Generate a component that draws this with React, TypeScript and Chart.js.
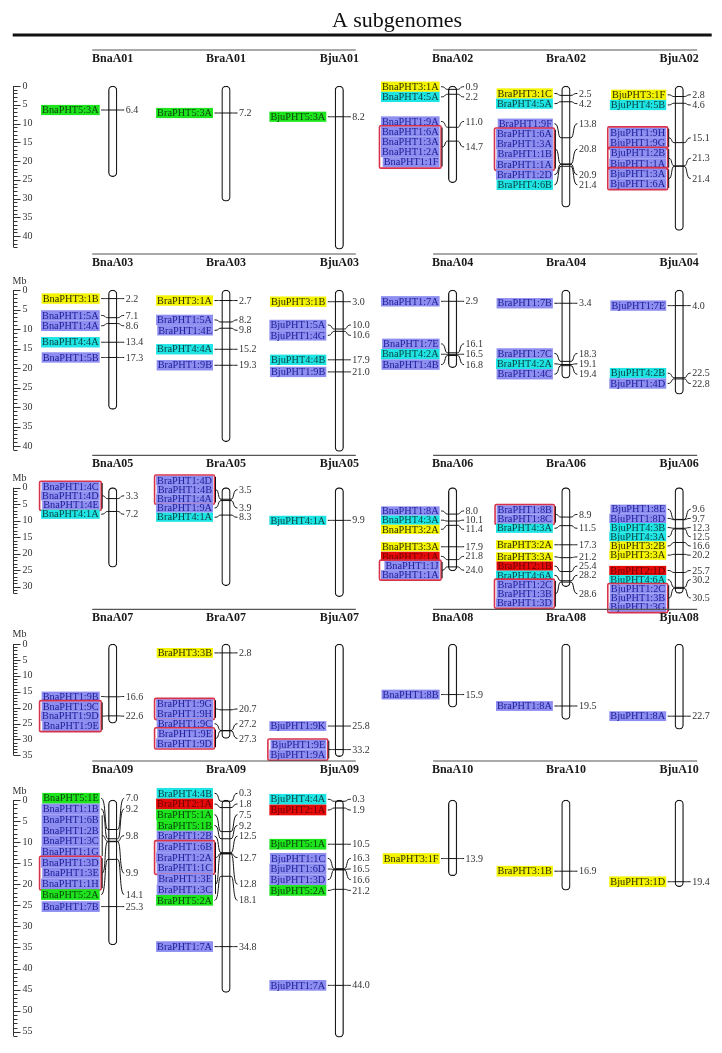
import { useEffect, useRef } from "react";
import { Chart, registerables } from "chart.js";

Chart.register(...registerables);

type Locus = [number, string[], boolean?];

const TITLE = "A subgenomes";
const AXIS_UNIT = "Mb";

// ---------- Row 1 ----------
const ROW1_CHROMS = ["BnaA01", "BraA01", "BjuA01", "BnaA02", "BraA02", "BjuA02"];
const ROW1_LENGTHS = [24.2, 30.7, 43.5, 25.8, 32.3, 38.5];
const ROW1_LOCI: Locus[][] = [
  [[6.4, ["BnaPHT5:3A"]]],
  [[7.2, ["BraPHT5:3A"]]],
  [[8.2, ["BjuPHT5:3A"]]],
  [
    [0.9, ["BnaPHT3:1A"]],
    [2.2, ["BnaPHT4:5A"]],
    [11.0, ["BnaPHT1:9A"]],
    [14.7, ["BnaPHT1:6A", "BnaPHT1:3A", "BnaPHT1:2A", "BnaPHT1:1F"], true],
  ],
  [
    [2.5, ["BraPHT3:1C"]],
    [4.2, ["BraPHT4:5A"]],
    [13.8, ["BraPHT1:9F"]],
    [20.8, ["BraPHT1:6A", "BraPHT1:3A", "BraPHT1:1B", "BraPHT1:1A"], true],
    [20.9, ["BraPHT1:2D"]],
    [21.4, ["BraPHT4:6B"]],
  ],
  [
    [2.8, ["BjuPHT3:1F"]],
    [4.6, ["BjuPHT4:5B"]],
    [15.1, ["BjuPHT1:9H", "BjuPHT1:9G"], true],
    [21.3, ["BjuPHT1:2B", "BjuPHT1:1A"], true],
    [21.4, ["BjuPHT1:3A", "BjuPHT1:6A"], true],
  ],
];

// ---------- Row 2 ----------
const ROW2_CHROMS = ["BnaA03", "BraA03", "BjuA03", "BnaA04", "BraA04", "BjuA04"];
const ROW2_LENGTHS = [30.6, 38.9, 41.4, 19.9, 22.6, 26.7];
const ROW2_LOCI: Locus[][] = [
  [
    [2.2, ["BnaPHT3:1B"]],
    [7.1, ["BnaPHT1:5A"]],
    [8.6, ["BnaPHT1:4A"]],
    [13.4, ["BnaPHT4:4A"]],
    [17.3, ["BnaPHT1:5B"]],
  ],
  [
    [2.7, ["BraPHT3:1A"]],
    [8.2, ["BraPHT1:5A"]],
    [9.8, ["BraPHT1:4E"]],
    [15.2, ["BraPHT4:4A"]],
    [19.3, ["BraPHT1:9B"]],
  ],
  [
    [3.0, ["BjuPHT3:1B"]],
    [10.0, ["BjuPHT1:5A"]],
    [10.6, ["BjuPHT1:4G"]],
    [17.9, ["BjuPHT4:4B"]],
    [21.0, ["BjuPHT1:9B"]],
  ],
  [
    [2.9, ["BnaPHT1:7A"]],
    [16.1, ["BnaPHT1:7E"]],
    [16.5, ["BnaPHT4:2A"]],
    [16.8, ["BnaPHT1:4B"]],
  ],
  [
    [3.4, ["BraPHT1:7B"]],
    [18.3, ["BraPHT1:7C"]],
    [19.1, ["BraPHT4:2A"]],
    [19.4, ["BraPHT1:4C"]],
  ],
  [
    [4.0, ["BjuPHT1:7E"]],
    [22.5, ["BjuPHT4:2B"]],
    [22.8, ["BjuPHT1:4D"]],
  ],
];

// ---------- Row 3 ----------
const ROW3_CHROMS = ["BnaA05", "BraA05", "BjuA05", "BnaA06", "BraA06", "BjuA06"];
const ROW3_LENGTHS = [24.1, 29.7, 33.0, 25.2, 30.0, 32.0];
const ROW3_LOCI: Locus[][] = [
  [
    [3.3, ["BnaPHT1:4C", "BnaPHT1:4D", "BnaPHT1:4E"], true],
    [7.2, ["BnaPHT4:1A"]],
  ],
  [
    [3.5, ["BraPHT1:4D", "BraPHT1:4B", "BraPHT1:4A"], true],
    [3.9, ["BraPHT1:9A"]],
    [8.3, ["BraPHT4:1A"]],
  ],
  [[9.9, ["BjuPHT4:1A"]]],
  [
    [8.0, ["BnaPHT1:8A"]],
    [10.1, ["BnaPHT4:3A"]],
    [11.4, ["BnaPHT3:2A"]],
    [17.9, ["BnaPHT3:3A"]],
    [21.8, ["BnaPHT2:1A"]],
    [24.0, ["BnaPHT1:1J", "BnaPHT1:1A"], true],
  ],
  [
    [8.9, ["BraPHT1:8B", "BraPHT1:8C"], true],
    [11.5, ["BraPHT4:3A"]],
    [17.3, ["BraPHT3:2A"]],
    [21.2, ["BraPHT3:3A"]],
    [25.4, ["BraPHT2:1B"]],
    [28.2, ["BraPHT4:6A"]],
    [28.6, ["BraPHT1:2C", "BraPHT1:3B", "BraPHT1:3D"], true],
  ],
  [
    [9.6, ["BjuPHT1:8E"]],
    [9.7, ["BjuPHT1:8D"]],
    [12.3, ["BjuPHT4:3B"]],
    [12.5, ["BjuPHT4:3A"]],
    [16.6, ["BjuPHT3:2B"]],
    [20.2, ["BjuPHT3:3A"]],
    [25.7, ["BjuPHT2:1D"]],
    [30.2, ["BjuPHT4:6A"]],
    [30.5, ["BjuPHT1:2C", "BjuPHT1:3B", "BjuPHT1:3G"], true],
  ],
];

// ---------- Row 4 ----------
const ROW4_CHROMS = ["BnaA07", "BraA07", "BjuA07", "BnaA08", "BraA08", "BjuA08"];
const ROW4_LENGTHS = [24.9, 29.7, 35.4, 19.9, 23.7, 26.8];
const ROW4_LOCI: Locus[][] = [
  [
    [16.6, ["BnaPHT1:9B"]],
    [22.6, ["BnaPHT1:9C", "BnaPHT1:9D", "BnaPHT1:9E"], true],
  ],
  [
    [2.8, ["BraPHT3:3B"]],
    [20.7, ["BraPHT1:9G", "BraPHT1:9H"], true],
    [27.2, ["BraPHT1:9C"]],
    [27.3, ["BraPHT1:9E", "BraPHT1:9D"], true],
  ],
  [
    [25.8, ["BjuPHT1:9K"]],
    [33.2, ["BjuPHT1:9E", "BjuPHT1:9A"], true],
  ],
  [[15.9, ["BnaPHT1:8B"]]],
  [[19.5, ["BraPHT1:8A"]]],
  [[22.7, ["BjuPHT1:8A"]]],
];

// ---------- Row 5 ----------
const ROW5_CHROMS = ["BnaA09", "BraA09", "BjuA09", "BnaA10", "BraA10", "BjuA10"];
const ROW5_LENGTHS = [34.4, 45.7, 56.3, 18.0, 21.4, 20.6];
const ROW5_LOCI: Locus[][] = [
  [
    [7.0, ["BnaPHT5:1E"]],
    [9.2, ["BnaPHT1:1B"]],
    [9.8, ["BnaPHT1:6B", "BnaPHT1:2B", "BnaPHT1:3C", "BnaPHT1:1G"]],
    [9.9, ["BnaPHT1:3D", "BnaPHT1:3E", "BnaPHT1:1H"], true],
    [14.1, ["BnaPHT5:2A"]],
    [25.3, ["BnaPHT1:7B"]],
  ],
  [
    [0.3, ["BraPHT4:4B"]],
    [1.8, ["BraPHT2:1A"]],
    [7.5, ["BraPHT5:1A"]],
    [9.2, ["BraPHT5:1B"]],
    [12.5, ["BraPHT1:2B"]],
    [12.7, ["BraPHT1:6B", "BraPHT1:2A", "BraPHT1:1C"], true],
    [12.8, ["BraPHT1:3E", "BraPHT1:3C"]],
    [18.1, ["BraPHT5:2A"]],
    [34.8, ["BraPHT1:7A"]],
  ],
  [
    [0.3, ["BjuPHT4:4A"]],
    [1.9, ["BjuPHT2:1A"]],
    [10.5, ["BjuPHT5:1A"]],
    [16.3, ["BjuPHT1:1C"]],
    [16.5, ["BjuPHT1:6D"]],
    [16.6, ["BjuPHT1:3D"]],
    [21.2, ["BjuPHT5:2A"]],
    [44.0, ["BjuPHT1:7A"]],
  ],
  [[13.9, ["BnaPHT3:1F"]]],
  [[16.9, ["BraPHT3:1B"]]],
  [[19.4, ["BjuPHT3:1D"]]],
];

const ROW_CHROMS = [ROW1_CHROMS, ROW2_CHROMS, ROW3_CHROMS, ROW4_CHROMS, ROW5_CHROMS];
const ROW_LENGTHS = [ROW1_LENGTHS, ROW2_LENGTHS, ROW3_LENGTHS, ROW4_LENGTHS, ROW5_LENGTHS];
const ROW_LOCI = [ROW1_LOCI, ROW2_LOCI, ROW3_LOCI, ROW4_LOCI, ROW5_LOCI];
const ROW_AXIS_MAX = [43, 41, 32, 35, 56];
const MAJOR_STEP = 5;

// ---------- layout / style (not data) ----------
const W = 722;
const H = 1053;
const ROW_ZERO_PX = [86, 290, 487.7, 644, 800];
const ROW_PX_PER_MB = [3.75, 3.9, 3.3, 3.18, 4.213];
const ROW_LABEL_H = [10.2, 10.4, 9.2, 9.8, 10.7];
const ROW_HEADER_LINE_Y = [50, 254, 455.3, 609.3, 761];
const ROW_HEADER_NAME_Y = [58.5, 263, 463.5, 617.5, 770];
const ROW_MB_Y: (number | null)[] = [null, 281, 478, 634, 791];
const FIRST_CHROM_PX = 112.7;
const CHROM_STEP_PX = 113.3;
const SERIF = '"Liberation Serif", "Times New Roman", serif';

const FAMILY_FILL: Record<string, string> = {
  PHT1: "#8e8ef0",
  PHT2: "#e50a0a",
  PHT3: "#f4f400",
  PHT4: "#1ee4e4",
  PHT5: "#1ee41e",
};
const FAMILY_TEXT: Record<string, string> = {
  PHT1: "#20209a",
  PHT2: "#6e0000",
  PHT3: "#2e2e00",
  PHT4: "#0b4444",
  PHT5: "#0b440b",
};

function family(name: string): string {
  const m = name.match(/PHT(\d)/);
  return m ? "PHT" + m[1] : "PHT1";
}

function layoutBlocks(targets: number[], heights: number[]): number[] {
  type Cl = { idx: number[]; top: number; h: number };
  const cls: Cl[] = [];
  targets.forEach((t, i) => {
    cls.push({ idx: [i], top: t - heights[i] / 2, h: heights[i] });
    while (cls.length > 1) {
      const b = cls[cls.length - 1];
      const a = cls[cls.length - 2];
      if (a.top + a.h > b.top + 0.01) {
        const idx = a.idx.concat(b.idx);
        let off = 0;
        let sum = 0;
        for (const k of idx) {
          sum += targets[k] - heights[k] / 2 - off;
          off += heights[k];
        }
        cls.splice(cls.length - 2, 2, { idx, top: sum / idx.length, h: off });
      } else break;
    }
  });
  const tops: number[] = new Array(targets.length).fill(0);
  for (const c of cls) {
    let off = 0;
    for (const k of c.idx) {
      tops[k] = c.top + off;
      off += heights[k];
    }
  }
  return tops;
}

const annotatePlugin = {
  id: "annotate",
  afterDatasetsDraw(chart: any) {
    const ctx: CanvasRenderingContext2D = chart.ctx;
    const xs = chart.scales.x;
    ctx.save();

    // Title and rule
    ctx.fillStyle = "#111";
    ctx.font = `22px ${SERIF}`;
    ctx.textAlign = "center";
    ctx.textBaseline = "alphabetic";
    ctx.fillText(TITLE, 397, 27);
    ctx.fillRect(12.7, 33.5, 699, 3);

    for (let r = 0; r < 5; r++) {
      const ys = chart.scales["y" + (r + 1)];
      const lh = ROW_LABEL_H[r];

      // Axis
      const ax = 13.5;
      ctx.strokeStyle = "#333";
      ctx.lineWidth = 1;
      ctx.beginPath();
      ctx.moveTo(ax, ys.getPixelForValue(0));
      ctx.lineTo(ax, ys.getPixelForValue(ROW_AXIS_MAX[r]));
      for (let v = 0; v <= ROW_AXIS_MAX[r]; v++) {
        const y = Math.round(ys.getPixelForValue(v)) + 0.5;
        ctx.moveTo(ax, y);
        ctx.lineTo(v % MAJOR_STEP === 0 ? 20.5 : 17.5, y);
      }
      ctx.stroke();
      ctx.fillStyle = "#333";
      ctx.font = `10px ${SERIF}`;
      ctx.textAlign = "left";
      ctx.textBaseline = "middle";
      for (let v = 0; v <= ROW_AXIS_MAX[r]; v += MAJOR_STEP) {
        ctx.fillText(String(v), 22.5, ys.getPixelForValue(v));
      }
      const mbY = ROW_MB_Y[r];
      if (mbY !== null) ctx.fillText(AXIS_UNIT, 12.5, mbY);

      // Header lines and names
      const lineY = ROW_HEADER_LINE_Y[r];
      ctx.strokeStyle = "#555";
      ctx.lineWidth = 1.2;
      ctx.beginPath();
      ctx.moveTo(xs.getPixelForValue(0) - 20.5, lineY);
      ctx.lineTo(xs.getPixelForValue(2) + 16.5, lineY);
      ctx.moveTo(xs.getPixelForValue(3) - 19.5, lineY);
      ctx.lineTo(xs.getPixelForValue(5) + 18, lineY);
      ctx.stroke();
      ctx.fillStyle = "#1a1a1a";
      ctx.font = `bold 12px ${SERIF}`;
      ctx.textAlign = "center";
      ROW_CHROMS[r].forEach((name, i) => {
        ctx.fillText(name, xs.getPixelForValue(i), ROW_HEADER_NAME_Y[r]);
      });

      // Gene annotations
      ROW_LOCI[r].forEach((loci, i) => {
        const cx = xs.getPixelForValue(i);
        const targets = loci.map((l) => ys.getPixelForValue(l[0]));
        const heights = loci.map((l) => l[1].length * lh);
        const tops = layoutBlocks(targets, heights);
        const right = cx - 13;

        loci.forEach((l, j) => {
          const [pos, genes, boxed] = l;
          const top = tops[j];
          const n = genes.length;
          const yB = top + (n * lh) / 2;
          const yT = targets[j];
          ctx.font = `10.3px ${SERIF}`;
          ctx.textAlign = "right";
          ctx.textBaseline = "middle";
          let minLeft = right;
          genes.forEach((g, k) => {
            const yc = top + (k + 0.5) * lh;
            const w = ctx.measureText(g).width + 2;
            const fam = family(g);
            ctx.fillStyle = FAMILY_FILL[fam];
            ctx.fillRect(right - w, yc - lh / 2, w, lh);
            ctx.fillStyle = FAMILY_TEXT[fam];
            ctx.fillText(g, right - 1, yc + 0.5);
            minLeft = Math.min(minLeft, right - w);
          });
          if (boxed) {
            ctx.strokeStyle = "#d8334c";
            ctx.lineWidth = 1.6;
            ctx.beginPath();
            const bx = minLeft - 1.5;
            const bw = right + 1.5 - bx;
            if ((ctx as any).roundRect) (ctx as any).roundRect(bx, top - 0.8, bw, n * lh + 1.6, 1.5);
            else ctx.rect(bx, top - 0.8, bw, n * lh + 1.6);
            ctx.stroke();
          }
          ctx.strokeStyle = "#111";
          ctx.lineWidth = 1;
          ctx.beginPath();
          let sx = cx - 11.5;
          if (n > 1) {
            sx = cx - 10.5;
            ctx.moveTo(sx, top + 1);
            ctx.lineTo(sx, top + n * lh - 1);
          }
          ctx.moveTo(sx, yB);
          ctx.bezierCurveTo(cx - 6.5, yB, cx - 8.5, yT, cx - 5, yT);
          ctx.lineTo(cx + 5, yT);
          ctx.bezierCurveTo(cx + 8.5, yT, cx + 6.5, yB, cx + 11.5, yB);
          ctx.stroke();

          ctx.fillStyle = "#333";
          ctx.font = `10px ${SERIF}`;
          ctx.textAlign = "left";
          ctx.fillText(pos.toFixed(1), cx + 13, yB + 0.5);
        });
      });
    }
    ctx.restore();
  },
};

export default function App() {
  const ref = useRef<HTMLCanvasElement>(null);
  useEffect(() => {
    const canvas = ref.current;
    if (!canvas) return;
    const scales: any = {
      x: {
        type: "linear",
        display: false,
        offset: false,
        min: -FIRST_CHROM_PX / CHROM_STEP_PX,
        max: (W - FIRST_CHROM_PX) / CHROM_STEP_PX,
      },
    };
    for (let r = 0; r < 5; r++) {
      scales["y" + (r + 1)] = {
        type: "linear",
        axis: "y",
        display: false,
        reverse: true,
        min: -ROW_ZERO_PX[r] / ROW_PX_PER_MB[r],
        max: (H - ROW_ZERO_PX[r]) / ROW_PX_PER_MB[r],
      };
    }
    const datasets = ROW_LENGTHS.map((lens, r) => ({
      type: "bar" as const,
      label: "row" + (r + 1),
      xAxisID: "x",
      yAxisID: "y" + (r + 1),
      data: lens.map((len, i) => ({ x: i, y: [0, len] })),
      backgroundColor: "#ffffff",
      borderColor: "#1a1a1a",
      borderWidth: 1.3,
      borderRadius: 5,
      borderSkipped: false,
      grouped: false,
      barThickness: 8.5,
      maxBarThickness: 8.5,
    }));
    const chart = new Chart(canvas, {
      type: "bar",
      data: { datasets } as any,
      options: {
        animation: false,
        responsive: false,
        maintainAspectRatio: false,
        devicePixelRatio: 1,
        events: [],
        layout: { padding: 0 },
        plugins: { legend: { display: false }, tooltip: { enabled: false } },
        scales,
      } as any,
      plugins: [annotatePlugin],
    });
    return () => chart.destroy();
  }, []);
  return (
    <div style={{ position: "absolute", left: 0, top: 0, width: W, height: H, background: "#fff" }}>
      <canvas ref={ref} width={W} height={H} style={{ display: "block", width: W, height: H }} />
    </div>
  );
}
